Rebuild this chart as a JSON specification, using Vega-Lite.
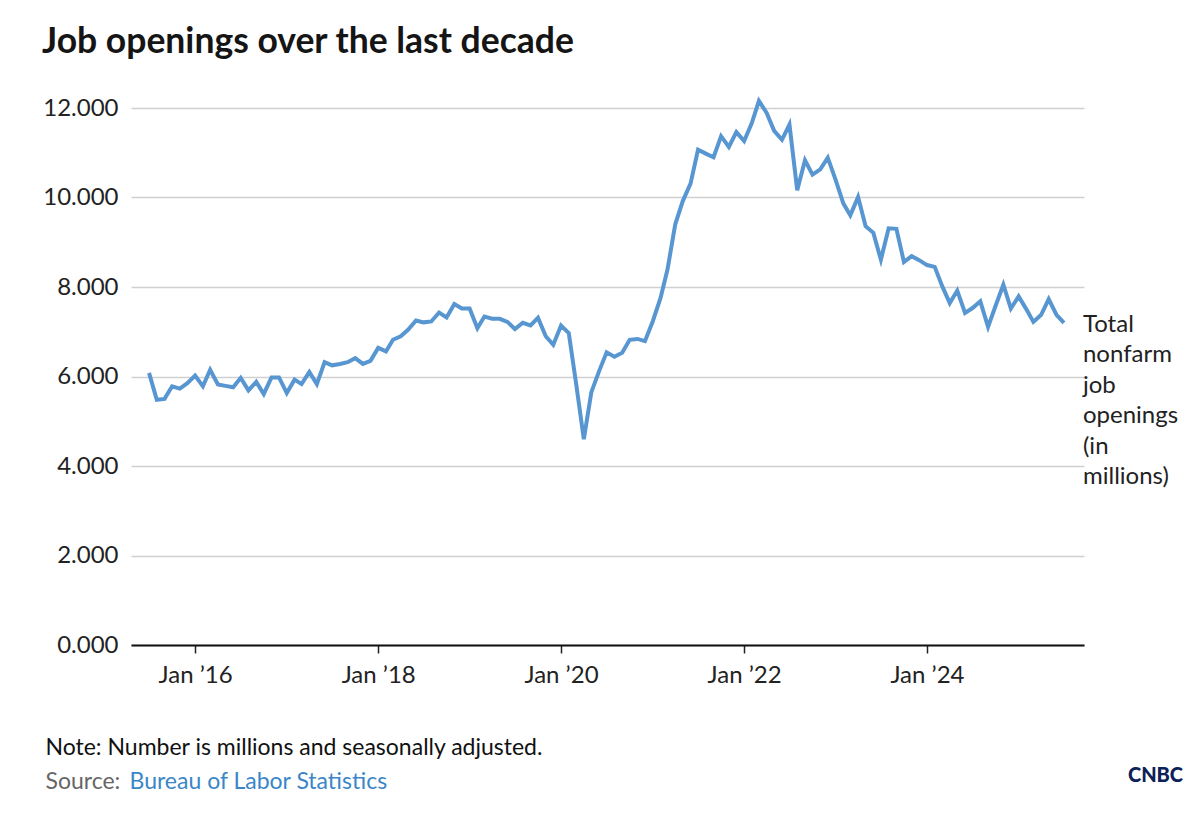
{
  "$schema": "https://vega.github.io/schema/vega-lite/v6.json",
  "autosize": {"type": "none"},
  "width": 953,
  "height": 537,
  "padding": {"left": 131, "top": 108, "right": 116, "bottom": 173},
  "background": "white",
  "title": {
    "text": "Job openings over the last decade",
    "anchor": "start",
    "frame": "group",
    "dx": -89,
    "offset": 32,
    "font": "Lato",
    "fontSize": 35.5,
    "fontWeight": "bold",
    "color": "#151515"
  },
  "config": {
    "view": {"stroke": null},
    "font": "Lato"
  },
  "data": {
    "values": [
      {"date": "2015-07-01", "value": 6.08},
      {"date": "2015-08-01", "value": 5.48},
      {"date": "2015-09-01", "value": 5.50},
      {"date": "2015-10-01", "value": 5.78},
      {"date": "2015-11-01", "value": 5.73},
      {"date": "2015-12-01", "value": 5.85},
      {"date": "2016-01-01", "value": 6.02},
      {"date": "2016-02-01", "value": 5.78},
      {"date": "2016-03-01", "value": 6.15},
      {"date": "2016-04-01", "value": 5.82},
      {"date": "2016-05-01", "value": 5.79},
      {"date": "2016-06-01", "value": 5.76},
      {"date": "2016-07-01", "value": 5.97},
      {"date": "2016-08-01", "value": 5.69},
      {"date": "2016-09-01", "value": 5.88},
      {"date": "2016-10-01", "value": 5.61},
      {"date": "2016-11-01", "value": 5.98},
      {"date": "2016-12-01", "value": 5.98},
      {"date": "2017-01-01", "value": 5.63},
      {"date": "2017-02-01", "value": 5.93},
      {"date": "2017-03-01", "value": 5.83},
      {"date": "2017-04-01", "value": 6.10},
      {"date": "2017-05-01", "value": 5.83},
      {"date": "2017-06-01", "value": 6.32},
      {"date": "2017-07-01", "value": 6.25},
      {"date": "2017-08-01", "value": 6.28},
      {"date": "2017-09-01", "value": 6.32},
      {"date": "2017-10-01", "value": 6.41},
      {"date": "2017-11-01", "value": 6.28},
      {"date": "2017-12-01", "value": 6.35},
      {"date": "2018-01-01", "value": 6.64},
      {"date": "2018-02-01", "value": 6.56},
      {"date": "2018-03-01", "value": 6.82},
      {"date": "2018-04-01", "value": 6.90},
      {"date": "2018-05-01", "value": 7.05},
      {"date": "2018-06-01", "value": 7.25},
      {"date": "2018-07-01", "value": 7.21},
      {"date": "2018-08-01", "value": 7.23},
      {"date": "2018-09-01", "value": 7.43},
      {"date": "2018-10-01", "value": 7.32},
      {"date": "2018-11-01", "value": 7.62},
      {"date": "2018-12-01", "value": 7.52},
      {"date": "2019-01-01", "value": 7.52},
      {"date": "2019-02-01", "value": 7.08},
      {"date": "2019-03-01", "value": 7.34},
      {"date": "2019-04-01", "value": 7.29},
      {"date": "2019-05-01", "value": 7.29},
      {"date": "2019-06-01", "value": 7.22},
      {"date": "2019-07-01", "value": 7.06},
      {"date": "2019-08-01", "value": 7.20},
      {"date": "2019-09-01", "value": 7.14},
      {"date": "2019-10-01", "value": 7.31},
      {"date": "2019-11-01", "value": 6.90},
      {"date": "2019-12-01", "value": 6.71},
      {"date": "2020-01-01", "value": 7.14},
      {"date": "2020-02-01", "value": 6.97},
      {"date": "2020-03-01", "value": 5.85},
      {"date": "2020-04-01", "value": 4.60},
      {"date": "2020-05-01", "value": 5.65},
      {"date": "2020-06-01", "value": 6.12},
      {"date": "2020-07-01", "value": 6.54},
      {"date": "2020-08-01", "value": 6.44},
      {"date": "2020-09-01", "value": 6.53},
      {"date": "2020-10-01", "value": 6.82},
      {"date": "2020-11-01", "value": 6.84},
      {"date": "2020-12-01", "value": 6.79},
      {"date": "2021-01-01", "value": 7.23},
      {"date": "2021-02-01", "value": 7.75},
      {"date": "2021-03-01", "value": 8.39},
      {"date": "2021-04-01", "value": 9.40},
      {"date": "2021-05-01", "value": 9.92},
      {"date": "2021-06-01", "value": 10.31},
      {"date": "2021-07-01", "value": 11.07},
      {"date": "2021-08-01", "value": 10.98},
      {"date": "2021-09-01", "value": 10.90},
      {"date": "2021-10-01", "value": 11.37},
      {"date": "2021-11-01", "value": 11.13},
      {"date": "2021-12-01", "value": 11.46},
      {"date": "2022-01-01", "value": 11.26},
      {"date": "2022-02-01", "value": 11.67},
      {"date": "2022-03-01", "value": 12.16},
      {"date": "2022-04-01", "value": 11.89},
      {"date": "2022-05-01", "value": 11.49},
      {"date": "2022-06-01", "value": 11.29},
      {"date": "2022-07-01", "value": 11.63},
      {"date": "2022-08-01", "value": 10.16},
      {"date": "2022-09-01", "value": 10.83},
      {"date": "2022-10-01", "value": 10.51},
      {"date": "2022-11-01", "value": 10.63},
      {"date": "2022-12-01", "value": 10.89},
      {"date": "2023-01-01", "value": 10.40},
      {"date": "2023-02-01", "value": 9.87},
      {"date": "2023-03-01", "value": 9.60},
      {"date": "2023-04-01", "value": 10.01},
      {"date": "2023-05-01", "value": 9.36},
      {"date": "2023-06-01", "value": 9.21},
      {"date": "2023-07-01", "value": 8.61},
      {"date": "2023-08-01", "value": 9.31},
      {"date": "2023-09-01", "value": 9.30},
      {"date": "2023-10-01", "value": 8.56},
      {"date": "2023-11-01", "value": 8.69},
      {"date": "2023-12-01", "value": 8.60},
      {"date": "2024-01-01", "value": 8.49},
      {"date": "2024-02-01", "value": 8.45},
      {"date": "2024-03-01", "value": 8.03},
      {"date": "2024-04-01", "value": 7.64},
      {"date": "2024-05-01", "value": 7.92},
      {"date": "2024-06-01", "value": 7.42},
      {"date": "2024-07-01", "value": 7.53},
      {"date": "2024-08-01", "value": 7.68},
      {"date": "2024-09-01", "value": 7.11},
      {"date": "2024-10-01", "value": 7.58},
      {"date": "2024-11-01", "value": 8.05},
      {"date": "2024-12-01", "value": 7.52},
      {"date": "2025-01-01", "value": 7.79},
      {"date": "2025-02-01", "value": 7.50},
      {"date": "2025-03-01", "value": 7.22},
      {"date": "2025-04-01", "value": 7.38},
      {"date": "2025-05-01", "value": 7.73},
      {"date": "2025-06-01", "value": 7.38},
      {"date": "2025-07-01", "value": 7.20}
    ]
  },
  "resolve": {"axis": {"x": "independent", "y": "independent"}},
  "layer": [
    {
      "mark": {"type": "line", "color": "#5896d2", "strokeWidth": 4},
      "encoding": {
        "x": {
          "field": "date",
          "type": "temporal",
          "scale": {
            "type": "utc",
            "domain": [
              {"year": 2015, "month": 4, "date": 20, "utc": true},
              {"year": 2025, "month": 9, "date": 19, "utc": true}
            ]
          },
          "axis": {
            "orient": "bottom",
            "values": [
              {"year": 2016, "month": 1, "date": 1, "utc": true},
              {"year": 2018, "month": 1, "date": 1, "utc": true},
              {"year": 2020, "month": 1, "date": 1, "utc": true},
              {"year": 2022, "month": 1, "date": 1, "utc": true},
              {"year": 2024, "month": 1, "date": 1, "utc": true}
            ],
            "format": "Jan ’%y",
            "grid": false,
            "domain": true,
            "domainColor": "#111111",
            "domainWidth": 2,
            "ticks": true,
            "tickSize": 8,
            "tickColor": "#222222",
            "tickWidth": 1.5,
            "labelFont": "Lato",
            "labelFontSize": 24,
            "labelColor": "#222222",
            "labelPadding": 10,
            "labelFlush": false,
            "title": "Note: Number is millions and seasonally adjusted.",
            "titleFont": "Lato",
            "titleFontSize": 23,
            "titleFontWeight": "normal",
            "titleColor": "#111111",
            "titleAlign": "left",
            "titleAnchor": "start",
            "titleBaseline": "alphabetic",
            "titleX": -86,
            "titleY": 109
          }
        },
        "y": {
          "field": "value",
          "type": "quantitative",
          "scale": {"domain": [0, 12], "nice": false, "zero": true},
          "axis": {
            "orient": "left",
            "values": [0, 2, 4, 6, 8, 10, 12],
            "format": ".3f",
            "grid": true,
            "gridColor": "#d0d0d0",
            "gridWidth": 1.5,
            "domain": false,
            "ticks": false,
            "labelFont": "Lato",
            "labelFontSize": 24,
            "labelColor": "#222222",
            "labelPadding": 13,
            "title": "Source:",
            "titleFont": "Lato",
            "titleFontSize": 23,
            "titleFontWeight": "normal",
            "titleColor": "#666666",
            "titleAngle": 0,
            "titleAlign": "left",
            "titleAnchor": "start",
            "titleBaseline": "alphabetic",
            "titleX": -86,
            "titleY": 680
          }
        }
      }
    },
    {
      "transform": [
        {"filter": "utcyear(datum.date) == 2025 && utcmonth(datum.date) == 6"}
      ],
      "mark": {
        "type": "text",
        "align": "left",
        "baseline": "alphabetic",
        "dx": 19,
        "dy": 9,
        "lineBreak": " ",
        "lineHeight": 30.5,
        "font": "Lato",
        "fontSize": 24,
        "color": "#222222"
      },
      "encoding": {
        "x": {
          "field": "date",
          "type": "temporal",
          "axis": {
            "orient": "top",
            "labels": false,
            "ticks": false,
            "domain": false,
            "grid": false,
            "title": "Bureau of Labor Statistics",
            "titleFont": "Lato",
            "titleFontSize": 23,
            "titleFontWeight": "normal",
            "titleColor": "#3a86c8",
            "titleAlign": "left",
            "titleAnchor": "start",
            "titleBaseline": "alphabetic",
            "titleX": -2,
            "titleY": 680
          }
        },
        "y": {
          "field": "value",
          "type": "quantitative",
          "axis": {
            "orient": "right",
            "labels": false,
            "ticks": false,
            "domain": false,
            "grid": false,
            "title": "CNBC",
            "titleFont": "Lato",
            "titleFontSize": 20,
            "titleFontWeight": 900,
            "titleColor": "#0c2157",
            "titleAngle": 0,
            "titleAlign": "center",
            "titleAnchor": "start",
            "titleBaseline": "alphabetic",
            "titleX": 71,
            "titleY": 673
          }
        },
        "text": {"value": "Total nonfarm job openings (in millions)"}
      }
    }
  ]
}
